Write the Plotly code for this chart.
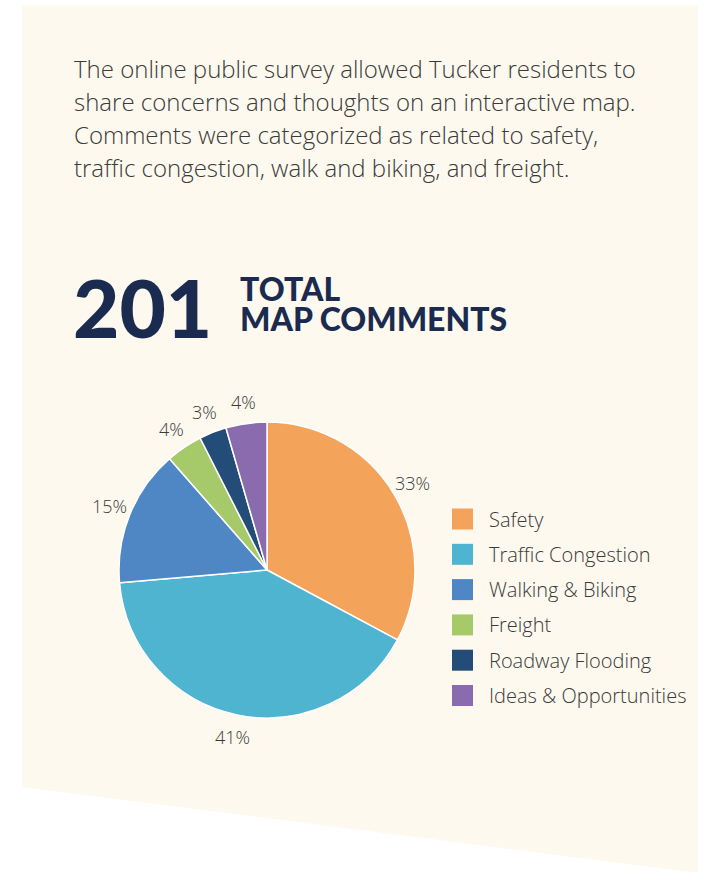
import math
import plotly.graph_objects as go

categories = ["Safety", "Traffic Congestion", "Walking & Biking", "Freight",
              "Roadway Flooding", "Ideas & Opportunities"]
comment_counts = [66, 82, 30, 8, 6, 9]
slice_colors = ["#F4A35A", "#4FB4CF", "#4F86C4", "#A6C96A", "#244C78", "#8A6CAE"]

intro_lines = [
    "The online public survey allowed Tucker residents to",
    "share concerns and thoughts on an interactive map.",
    "Comments were categorized as related to safety,",
    "traffic congestion, walk and biking, and freight.",
]
total_label = "201"
title_lines = ["TOTAL", "MAP COMMENTS"]

W, H = 712, 885
def px(x):
    return x / W
def py(y):
    return 1 - y / H

NAVY = "#1B2B50"
TEXT = "#3A3A3A"
BODY_FONT = "Open Sans"
HEAD_FONT = "Lato"

cx, cy, r = 267, 570, 148
label_r = 170

fig = go.Figure()
fig.add_trace(go.Pie(
    labels=categories,
    values=comment_counts,
    marker=dict(colors=slice_colors, line=dict(color="white", width=1.5)),
    sort=False,
    direction="clockwise",
    rotation=0,
    textinfo="none",
    showlegend=False,
    domain=dict(x=[px(cx - r), px(cx + r)], y=[py(cy + r), py(cy - r)]),
    hoverinfo="label+percent",
))

shapes = [dict(
    type="path", xref="paper", yref="paper",
    path=f"M {px(22)},{py(5)} L {px(698)},{py(5)} L {px(698)},{py(873)} L {px(22)},{py(787)} Z",
    fillcolor="#FDF9EE", line=dict(width=0), layer="below",
)]

annotations = []
# percentage labels placed outside each slice, at its mid angle
total = sum(comment_counts)
cum = 0
for v in comment_counts:
    mid = (cum + v / 2) / total * 2 * math.pi
    cum += v
    lx = cx + label_r * math.sin(mid)
    ly = cy - label_r * math.cos(mid)
    annotations.append(dict(
        x=px(lx), y=py(ly), xref="paper", yref="paper",
        text=f"{round(100 * v / total)}%", showarrow=False,
        xanchor="center", yanchor="middle",
        font=dict(family=BODY_FONT, size=18, color=TEXT, weight=300),
    ))

for i, line in enumerate(intro_lines):
    annotations.append(dict(
        x=px(72), y=py(68 + i * 33.3), xref="paper", yref="paper",
        text=line, showarrow=False, xanchor="left", yanchor="middle",
        font=dict(family=BODY_FONT, size=24, color=TEXT, weight=300),
    ))

annotations.append(dict(
    x=px(71), y=py(307), xref="paper", yref="paper", text=total_label,
    showarrow=False, xanchor="left", yanchor="middle",
    font=dict(family=HEAD_FONT, size=80, color=NAVY, weight=900),
))
for i, line in enumerate(title_lines):
    annotations.append(dict(
        x=px(238), y=py(288 + i * 31), xref="paper", yref="paper", text=line,
        showarrow=False, xanchor="left", yanchor="middle",
        font=dict(family=HEAD_FONT, size=32, color=NAVY, weight=900),
    ))

for i, (cat, col) in enumerate(zip(categories, slice_colors)):
    yc = 519 + i * 35.3
    shapes.append(dict(
        type="rect", xref="paper", yref="paper",
        x0=px(452), x1=px(473), y0=py(yc - 10.5), y1=py(yc + 10.5),
        fillcolor=col, line=dict(width=0),
    ))
    annotations.append(dict(
        x=px(487), y=py(yc), xref="paper", yref="paper", text=cat,
        showarrow=False, xanchor="left", yanchor="middle",
        font=dict(family=BODY_FONT, size=20, color=TEXT, weight=300),
    ))

fig.update_layout(
    width=W, height=H,
    margin=dict(l=0, r=0, t=0, b=0),
    paper_bgcolor="white",
    plot_bgcolor="white",
    shapes=shapes,
    annotations=annotations,
)

fig.write_html("out.html", config={"displayModeBar": False},
               post_script="document.body.style.margin='0';")
